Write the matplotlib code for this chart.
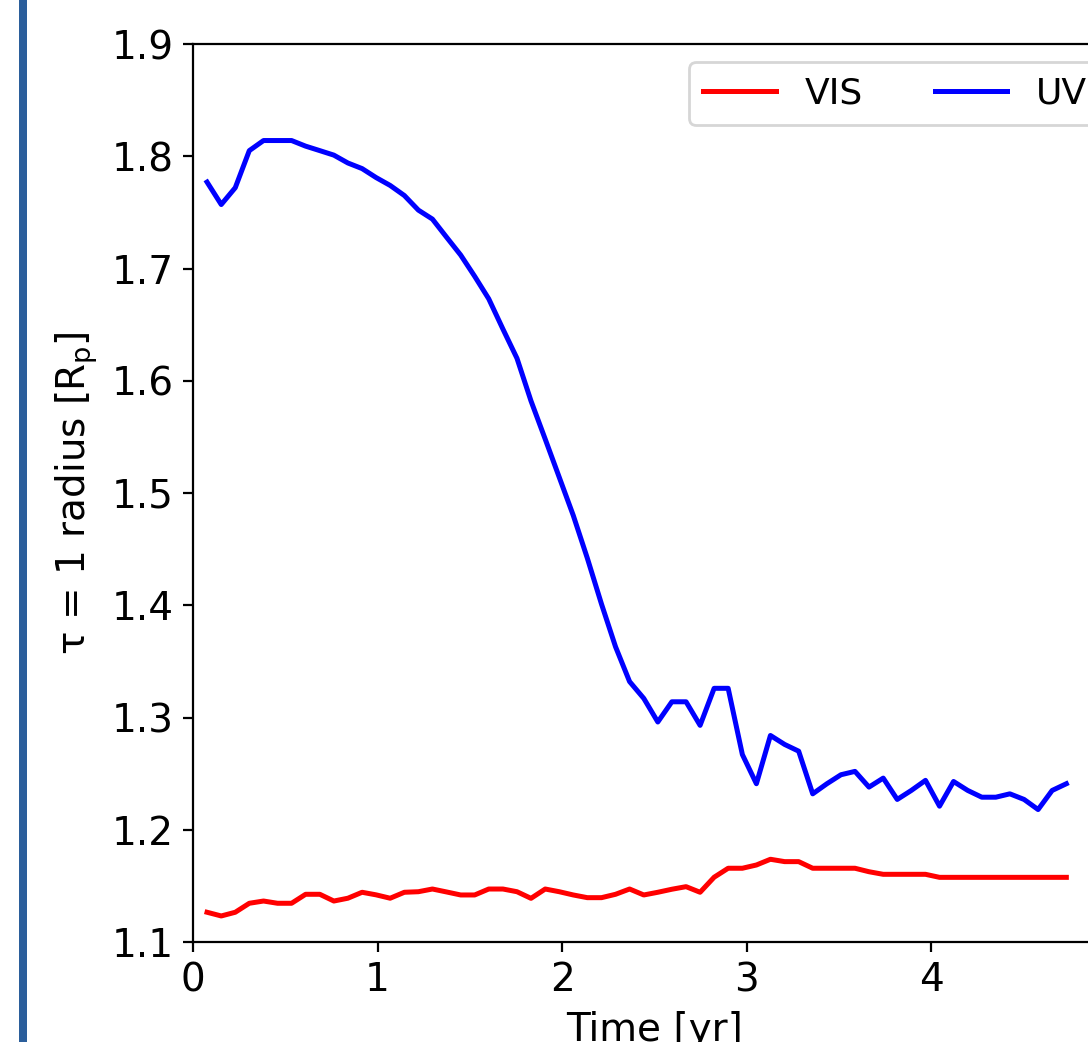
import matplotlib
matplotlib.use("Agg")
import matplotlib.pyplot as plt
from matplotlib.patches import Rectangle

time_yr = [0.076, 0.153, 0.229, 0.305, 0.382, 0.458, 0.534, 0.610, 0.687, 0.763,
           0.839, 0.916, 0.992, 1.068, 1.145, 1.221, 1.297, 1.373, 1.450, 1.526,
           1.602, 1.679, 1.755, 1.831, 1.908, 1.984, 2.060, 2.136, 2.213, 2.289,
           2.365, 2.442, 2.518, 2.594, 2.671, 2.747, 2.823, 2.899, 2.976, 3.052,
           3.128, 3.205, 3.281, 3.357, 3.434, 3.510, 3.586, 3.662, 3.739, 3.815,
           3.891, 3.968, 4.044, 4.120, 4.197, 4.273, 4.349, 4.425, 4.502, 4.578,
           4.654, 4.731]

vis = [1.1265, 1.1232, 1.1265, 1.1345, 1.1365, 1.1345, 1.1345, 1.1425, 1.1425, 1.1365,
       1.1390, 1.1443, 1.1420, 1.1390, 1.1443, 1.1448, 1.1472, 1.1446, 1.1419, 1.1419,
       1.1472, 1.1472, 1.1448, 1.1389, 1.1472, 1.1448, 1.1419, 1.1395, 1.1395, 1.1425,
       1.1472, 1.1419, 1.1443, 1.1470, 1.1493, 1.1443, 1.1577, 1.1657, 1.1657, 1.1686,
       1.1737, 1.1716, 1.1716, 1.1657, 1.1657, 1.1657, 1.1657, 1.1626, 1.1603, 1.1603,
       1.1603, 1.1603, 1.1576, 1.1576, 1.1576, 1.1576, 1.1576, 1.1576, 1.1576, 1.1576,
       1.1576, 1.1576]

uv = [1.777, 1.757, 1.772, 1.805, 1.814, 1.814, 1.814, 1.809, 1.805, 1.801,
      1.794, 1.789, 1.781, 1.774, 1.765, 1.752, 1.744, 1.728, 1.712, 1.693,
      1.673, 1.646, 1.620, 1.582, 1.548, 1.514, 1.480, 1.442, 1.401, 1.363,
      1.332, 1.317, 1.296, 1.314, 1.314, 1.293, 1.326, 1.326, 1.267, 1.241,
      1.284, 1.276, 1.270, 1.232, 1.241, 1.249, 1.252, 1.238, 1.246, 1.227,
      1.235, 1.244, 1.221, 1.243, 1.235, 1.229, 1.229, 1.232, 1.227, 1.218,
      1.235, 1.241]

y_ticks = [1.1, 1.2, 1.3, 1.4, 1.5, 1.6, 1.7, 1.8, 1.9]
x_ticks = [0, 1, 2, 3, 4]

W, H, DPI = 1088, 1042, 200
fig = plt.figure(figsize=(W / DPI, H / DPI), dpi=DPI)
fig.patches.append(Rectangle((19 / W, 0), 8 / W, 1, transform=fig.transFigure,
                             facecolor="#2b5e9b", edgecolor="none", zorder=0))

left, right, top, bottom = 193, 1116, 44, 942
ax = fig.add_axes([left / W, 1 - bottom / H, (right - left) / W, (bottom - top) / H])
ax.plot(time_yr, vis, color="red", lw=1.8, label="VIS")
ax.plot(time_yr, uv, color="blue", lw=1.8, label="UV")
ax.set_xlim(0, 5)
ax.set_ylim(1.1, 1.9)
ax.set_xticks(x_ticks)
ax.set_yticks(y_ticks)
ax.set_yticklabels([f"{v:.1f}" for v in y_ticks])
ax.tick_params(labelsize=14)
ax.set_xlabel("Time [yr]", fontsize=14)
ax.set_ylabel(r"$\mathrm{\tau}$ = 1 radius [R$_\mathrm{p}$]", fontsize=14)
ax.legend(ncol=2, fontsize=13, loc="upper left",
          bbox_to_anchor=(689 / W, 1 - 62 / H), bbox_transform=fig.transFigure,
          borderaxespad=0)
fig.savefig("out.png", dpi=DPI)
